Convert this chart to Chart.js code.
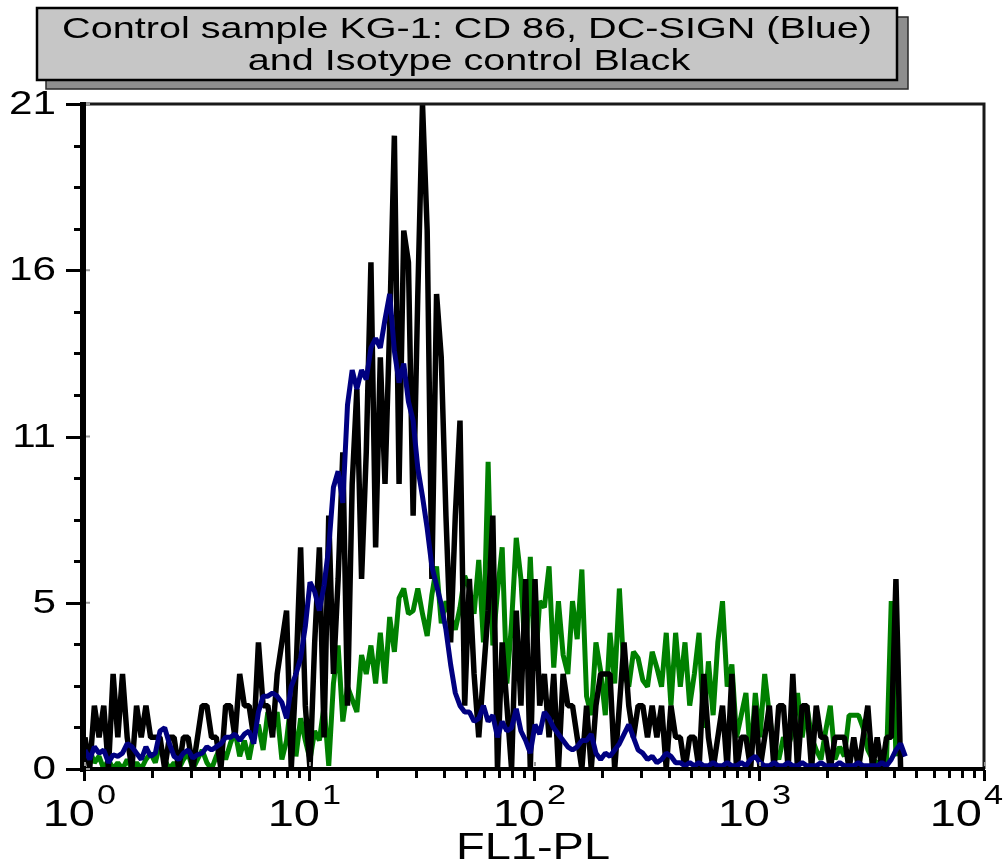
<!DOCTYPE html>
<html>
<head>
<meta charset="utf-8">
<script src="https://cdn.jsdelivr.net/npm/chart.js@4.4.0/dist/chart.umd.min.js"></script>
<style>
    html, body { margin: 0; padding: 0; background: #fff; }
    #wrap { width: 1003px; height: 865px; }
</style>
</head>
<body>
<div id="wrap"><canvas id="histo" width="1003" height="865"></canvas></div>
<script>
// --- DATA (FL1 histogram, 48 channels per decade) ---
const channelsPerDecade = 48;

const titleLines = ['Control sample KG-1: CD 86, DC-SIGN (Blue)', 'and Isotype control Black'];
const xTitle = 'FL1-PL';
const xDecades = [1, 10, 100, 1000, 10000];
const xExponents = ['0', '1', '2', '3', '4'];
const yMax = 21;
const yTickLabels = ['0', '5', '11', '16', '21'];

// DC-SIGN (blue)
const blueCounts = [
    0.6, 0.3, 0.7, 0.5, 0.6, 0.2, 0.45, 0.4, 0.5, 0.8,
    0.7, 0.5, 0.3, 0.7, 0.4, 0.5, 1.2, 1.3, 0.8, 0.4,
    0.3, 0.5, 0.6, 0.35, 0.45, 0.5, 0.7, 0.6, 0.7, 0.8,
    1.0, 1.0, 1.1, 0.9, 1.1, 1.2, 0.8, 1.8, 2.3, 2.3,
    2.4, 2.3, 2.1, 1.6, 2.6, 3.0, 3.5, 4.5, 5.9, 5.6,
    5.0, 5.8, 7.0, 8.9, 9.4, 8.4, 11.5, 12.6, 12.0, 12.6,
    12.3, 13.3, 13.6, 13.3, 14.2, 15.0, 13.2, 12.2, 12.8, 11.6,
    11.0, 9.5, 8.6, 7.6, 6.4, 5.8, 5.2, 4.4, 3.3, 2.4,
    2.0, 1.8, 1.8, 1.5, 1.6, 2.0, 1.5, 1.7, 1.0, 1.5,
    1.2, 1.3, 1.9, 1.2, 0.9, 0.5, 1.4, 1.1, 1.8, 1.6,
    1.3, 1.1, 0.9, 0.7, 0.6, 0.7, 0.9, 0.9, 1.1, 0.5,
    0.3, 0.5, 0.4, 0.6, 0.8, 1.1, 1.4, 1.0, 0.6, 0.5,
    0.3, 0.4, 0.2, 0.3, 0.5, 0.4, 0.2, 0.2, 0.1, 0.2,
    0.1, 0.2, 0.1, 0.1, 0.2, 0.1, 0.1, 0.2, 0.1, 0.1,
    0.2, 0.1, 0.3, 0.4, 0.2, 0.1, 0.1, 0.2, 0.1, 0.1,
    0.2, 0.1, 0.1, 0.2, 0.1, 0.1, 0.1, 0.2, 0.1, 0.1,
    0.1, 0.2, 0.1, 0.1, 0.1, 0.2, 0.1, 0.1, 0.1, 0.1,
    0.2, 0.1, 0.3, 0.6, 0.8, 0.4
];

// Isotype control (black)
const blackCounts = [
    1, 0, 2, 1, 2, 0, 3, 1, 3, 1,
    0, 2, 1, 2, 1, 1, 1, 0, 1, 1,
    0, 1, 1, 0, 1, 2, 2, 1, 1, 0,
    2, 2, 1, 3, 2, 2, 1, 4, 2, 2,
    1, 3, 4, 5, 0, 3, 7, 2, 0, 4,
    7, 1, 8, 3, 6, 10, 2, 9, 12, 6,
    10, 16, 7, 13, 9, 14, 20, 9, 17, 16,
    8, 15, 21, 17, 6, 15, 13, 8, 4, 8,
    11, 2, 6, 3, 1, 3, 5, 8, 0, 4,
    2, 0, 5, 2, 6, 0, 6, 2, 3, 1,
    3, 0, 3, 2, 2, 1, 0, 2, 0, 2,
    3, 3, 3, 0, 2, 4, 2, 1, 2, 2,
    1, 2, 1, 2, 0, 2, 1, 1, 0, 1,
    1, 0, 3, 1, 0, 1, 2, 0, 3, 0,
    1, 1, 0, 2, 0, 1, 2, 0, 2, 2,
    0, 3, 0, 2, 2, 0, 2, 1, 1, 0,
    1, 1, 1, 0, 1, 0, 1, 2, 0, 1,
    0, 1, 1, 6, 0
];

// CD 86 (green)
const greenCounts = [
    0.3, 0.6, 0.2, 0.4, 0, 0.3, 0, 0.2, 0, 0.3,
    0, 0.2, 0, 0.3, 0.5, 0.2, 0.8, 0.3, 0, 0.2,
    0, 0.3, 0.5, 0, 0.3, 0.6, 0.2, 0, 0.4, 0.7,
    0.3, 0.8, 1.2, 0.4, 0.9, 0.3, 1.1, 1.4, 0.6, 1.8,
    1.2, 1.8, 0.3, 0.9, 2.2, 0.4, 1.6, 0.9, 0.3, 1.2,
    0.9, 2.0, 0.1, 2.7, 3.9, 1.5, 2.6, 2.2, 1.8, 3.6,
    3.0, 3.9, 2.7, 4.3, 2.7, 4.8, 3.7, 5.4, 5.7, 4.9,
    5.0, 5.7, 4.9, 4.2, 5.5, 6.4, 4.6, 5.3, 4.8, 4.4,
    5.1, 6.1, 5.7, 4.9, 6.6, 4.0, 9.7, 3.9, 5.6, 7.0,
    2.7, 4.6, 7.3, 6.0, 3.4, 6.7, 3.1, 5.3, 5.1, 6.4,
    3.2, 5.3, 3.6, 3.0, 5.3, 4.1, 6.3, 2.3, 1.7, 4.0,
    3.1, 1.7, 4.3, 2.7, 5.7, 3.0, 2.6, 3.7, 3.5, 2.8,
    2.6, 3.7, 3.2, 2.6, 4.3, 2.0, 4.3, 2.6, 4.0, 2.0,
    3.0, 4.3, 1.3, 3.4, 1.7, 4.0, 5.3, 2.6, 3.3, 1.0,
    1.7, 2.4, 0.3, 2.4, 1.0, 3.0, 1.7, 0.7, 0.3, 1.0,
    0.7, 1.2, 2.4, 1.0, 2.0, 1.0, 0.6, 0.3, 1.2, 2.0,
    0.3, 0.7, 0.4, 1.7, 1.7, 1.7, 1.3, 0.6, 0.3, 0.2,
    0.1, 0.3, 5.3, 0.4
];

// channel index -> FL1 value on the log axis
function toPoints(counts) {
    return counts.map((c, i) => ({ x: Math.pow(10, i / channelsPerDecade), y: c }));
}

const fontFamily = "'Liberation Sans', Arial, Helvetica, sans-serif";

// the original picture is stretched sideways, so text is too
function wideText(ctx, text, x, y, size, align, sx) {
    ctx.save();
    ctx.font = size + 'px ' + fontFamily;
    ctx.translate(x, y);
    ctx.scale(sx, 1);
    ctx.textAlign = align;
    ctx.textBaseline = 'middle';
    ctx.fillStyle = '#000';
    ctx.fillText(text, 0, 0);
    ctx.restore();
}

// --- AXES, FRAME AND TITLE BOX ---
const framePlugin = {
    id: 'frame',
    afterDraw(chart) {
        const ctx = chart.ctx;
        const xs = chart.scales.x;
        const ys = chart.scales.y;
        const a = chart.chartArea;
        ctx.save();

        // thin top/right border
        ctx.strokeStyle = '#1a1a1a';
        ctx.lineWidth = 3;
        ctx.beginPath();
        ctx.moveTo(a.left, a.top);
        ctx.lineTo(a.right - 1, a.top);
        ctx.lineTo(a.right - 1, a.bottom);
        ctx.stroke();

        // thick left and bottom axes
        ctx.fillStyle = '#000';
        ctx.fillRect(a.left - 5, a.top - 2, 6, a.bottom - a.top + 5);
        ctx.fillRect(a.left - 5, a.bottom - 2, a.right - a.left + 5, 4);

        // y ticks: 4 intervals, 3 minors each
        ctx.strokeStyle = '#000';
        ctx.lineWidth = 3;
        for (let i = 0; i <= 16; i++) {
            const py = Math.round(ys.getPixelForValue(yMax * i / 16)) + 0.5;
            const major = i % 4 === 0;
            ctx.beginPath();
            ctx.moveTo(a.left - 4, py);
            ctx.lineTo(major ? a.left - 19 : a.left - 11, py);
            ctx.stroke();
        }
        yTickLabels.forEach((lab, k) => {
            const py = ys.getPixelForValue(yMax * k / 4);
            wideText(ctx, lab, 56, py + 1, 33, 'right', 1.28);
            ctx.strokeStyle = '#999';
            ctx.lineWidth = 2;
            ctx.beginPath();
            ctx.moveTo(a.left + 1, py);
            ctx.lineTo(a.left + 5, py);
            ctx.stroke();
        });

        // x ticks: decades plus 2..9
        ctx.strokeStyle = '#000';
        ctx.lineWidth = 3;
        xDecades.forEach((d, k) => {
            const mults = k < xDecades.length - 1 ? [1, 2, 3, 4, 5, 6, 7, 8, 9] : [1];
            mults.forEach(m => {
                const px = Math.round(xs.getPixelForValue(d * m)) - 0.5;
                ctx.beginPath();
                ctx.moveTo(px, a.bottom + 1);
                ctx.lineTo(px, a.bottom + (m === 1 ? 12 : 9));
                ctx.stroke();
            });
        });
        xDecades.forEach((d, k) => {
            // last label pulled in so it stays on the canvas
            const px = xs.getPixelForValue(d) - (k === xDecades.length - 1 ? 13 : 0);
            wideText(ctx, '10', px + 10, 816, 37, 'right', 1.27);
            wideText(ctx, xExponents[k], px + 12, 797, 27, 'left', 1.27);
            ctx.strokeStyle = '#999';
            ctx.lineWidth = 2;
            ctx.beginPath();
            ctx.moveTo(xs.getPixelForValue(d), a.bottom - 3);
            ctx.lineTo(xs.getPixelForValue(d), a.bottom - 7);
            ctx.stroke();
        });

        wideText(ctx, xTitle, 533, 849, 37, 'center', 1.27);

        // title box with offset shadow
        ctx.fillStyle = '#8e8e8e';
        ctx.fillRect(46, 17, 862, 72);
        ctx.strokeStyle = '#2a2a2a';
        ctx.lineWidth = 1.5;
        ctx.strokeRect(46, 17, 862, 72);
        ctx.fillStyle = '#c6c6c6';
        ctx.fillRect(37, 8, 860, 72);
        ctx.strokeStyle = '#000';
        ctx.lineWidth = 2.5;
        ctx.strokeRect(37, 8, 860, 72);
        wideText(ctx, titleLines[0], 467, 30, 30, 'center', 1.32);
        wideText(ctx, titleLines[1], 469, 62, 30, 'center', 1.32);

        ctx.restore();
    }
};

// --- CHART ---
const lineStyle = { pointRadius: 0, tension: 0, borderJoinStyle: 'bevel', fill: false };

new Chart(document.getElementById('histo').getContext('2d'), {
    type: 'line',
    data: {
        datasets: [
            { ...lineStyle, label: 'DC-SIGN', data: toPoints(blueCounts), borderColor: '#000080', borderWidth: 5 },
            { ...lineStyle, label: 'Isotype control', data: toPoints(blackCounts), borderColor: '#000000', borderWidth: 5.5 },
            { ...lineStyle, label: 'CD 86', data: toPoints(greenCounts), borderColor: '#008000', borderWidth: 5 }
        ]
    },
    options: {
        responsive: false,
        animation: false,
        layout: { padding: { left: 85, right: 18, top: 104, bottom: 96 } },
        scales: {
            x: { type: 'logarithmic', min: 1, max: 10000, display: false },
            y: { type: 'linear', min: 0, max: yMax, display: false }
        },
        plugins: { legend: { display: false }, tooltip: { enabled: false } }
    },
    plugins: [framePlugin]
});
</script>
</body>
</html>
